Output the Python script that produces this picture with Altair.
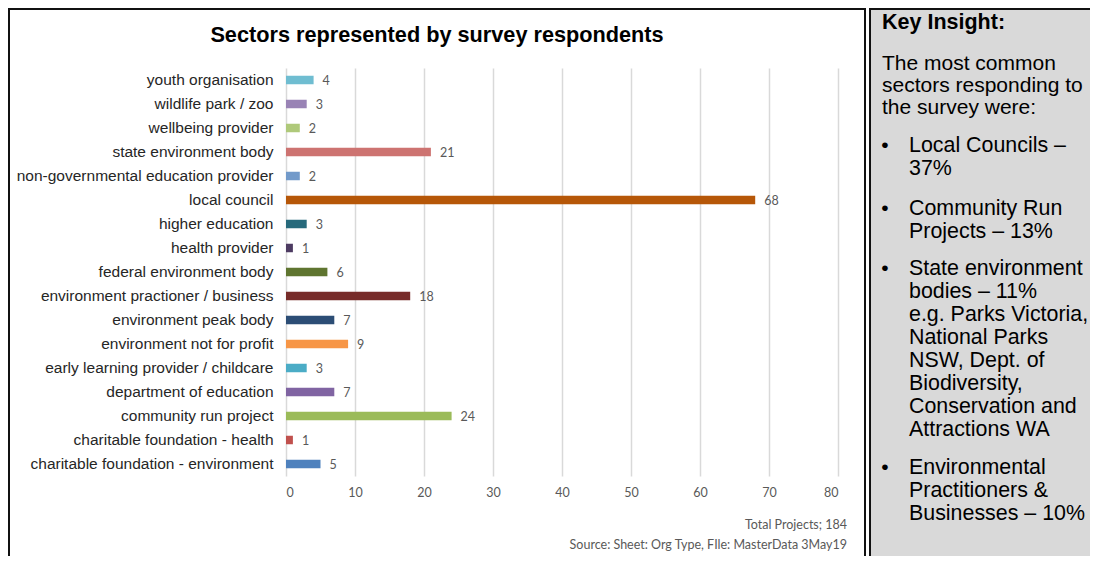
import altair as alt
import pandas as pd

# ---------------- data ----------------
sectors = [
    "youth organisation",
    "wildlife park / zoo",
    "wellbeing provider",
    "state environment body",
    "non-governmental education provider",
    "local council",
    "higher education",
    "health provider",
    "federal environment body",
    "environment practioner / business",
    "environment peak body",
    "environment not for profit",
    "early learning provider / childcare",
    "department of education",
    "community run project",
    "charitable foundation - health",
    "charitable foundation - environment",
]
counts = [4, 3, 2, 21, 2, 68, 3, 1, 6, 18, 7, 9, 3, 7, 24, 1, 5]
bar_colors = [
    "#6fbdd1", "#9983b5", "#afc97a", "#cd7371", "#729aca", "#b65708",
    "#276a7c", "#4d3b62", "#5f7530", "#772c2a", "#2c4d75", "#f79646",
    "#4bacc6", "#8064a2", "#9bbb59", "#c0504d", "#4f81bd",
]
x_ticks = [0, 10, 20, 30, 40, 50, 60, 70, 80]

title_text = "Sectors represented by survey respondents"
footer_total = "Total Projects;  184"
footer_source = "Source:  Sheet: Org Type, FIle: MasterData 3May19"

insight_heading = "Key Insight:"
insight_intro = ["The most common", "sectors responding to", "the survey were:"]
bullet_1 = ["Local Councils \u2013", "37%"]
bullet_2 = ["Community Run", "Projects \u2013 13%"]
bullet_3 = ["State environment", "bodies \u2013 11%", "e.g. Parks Victoria,",
            "National Parks", "NSW,  Dept. of", "Biodiversity,",
            "Conservation and", "Attractions WA"]
bullet_4 = ["Environmental", "Practitioners &", "Businesses \u2013 10%"]

df = pd.DataFrame({"sector": sectors, "count": counts})
one = pd.DataFrame({"k": [0]})

W, H = 552, 408
FONT = "Liberation Sans"
NUMFONT = "Lato"

# ---------------- main bars ----------------
y_enc = alt.Y(
    "sector:N",
    sort=sectors,
    scale=alt.Scale(paddingInner=0.1, paddingOuter=0.05),
    axis=alt.Axis(title=None, domain=False, ticks=False, grid=False,
                  labelFont=FONT, labelFontSize=15.5, labelColor="#262626",
                  labelPadding=13, labelLimit=400),
)
x_enc = alt.X(
    "count:Q",
    scale=alt.Scale(domain=[0, 80], nice=False),
    axis=alt.Axis(values=x_ticks, title=None, grid=True, gridColor="#d9d9d9",
                  gridWidth=1.5, domain=False, ticks=False, labelFont=NUMFONT,
                  labelFontSize=12.5, labelColor="#595959", labelPadding=10),
)

bars = alt.Chart(df).mark_bar(size=8.5).encode(
    x=x_enc,
    y=y_enc,
    color=alt.Color("sector:N", scale=alt.Scale(domain=sectors, range=bar_colors), legend=None),
)
bar_labels = alt.Chart(df).mark_text(
    align="left", baseline="middle", dx=9, dy=1, font=NUMFONT, fontSize=12.5, color="#595959"
).encode(x="count:Q", y=alt.Y("sector:N", sort=sectors), text="count:Q")

# ---------------- frames ----------------
chart_frame = alt.Chart(one).mark_rect(fill="white", fillOpacity=0, stroke="#111111", strokeWidth=2).encode(
    x=alt.value(-277), x2=alt.value(579), y=alt.value(-59), y2=alt.value(510)
)
panel = alt.Chart(one).mark_rect(fill="#d9d9d9", stroke="#111111", strokeWidth=2).encode(
    x=alt.value(584), x2=alt.value(830), y=alt.value(-59), y2=alt.value(510)
)

# ---------------- texts ----------------
def txt(text, x, y, size, weight="normal", align="left", color="#000000", font=FONT, lh=None, baseline="alphabetic"):
    props = dict(align=align, baseline=baseline, font=font, fontSize=size,
                 fontWeight=weight, color=color, lineBreak="\n")
    if lh is not None:
        props["lineHeight"] = lh
    return alt.Chart(pd.DataFrame({"t": [text]})).mark_text(**props).encode(
        x=alt.value(x), y=alt.value(y), text="t:N"
    )

title = txt(title_text, 151, -26, 21.7, weight="bold", align="center")
foot1 = txt(footer_total, 561, 457, 12.5, align="right", color="#595959", font=NUMFONT, baseline="middle")
foot2 = txt(footer_source, 561, 477, 12.5, align="right", color="#595959", font=NUMFONT, baseline="middle")

heading = txt(insight_heading, 596, -39, 21.5, weight="bold")
intro = txt("\n".join(insight_intro), 596, 2, 21, lh=22)
b_texts = []
for lines, yy in [(bullet_1, 84), (bullet_2, 147), (bullet_3, 207), (bullet_4, 406)]:
    b_texts.append(txt("\n".join(lines), 623, yy, 21.4, lh=23))
    b_texts.append(txt("\u2022", 599, yy, 21, align="center"))

chart = alt.layer(
    chart_frame, panel, bars, bar_labels, title, foot1, foot2, heading, intro, *b_texts
).properties(
    width=W, height=H,
    autosize=alt.AutoSizeParams(type="none"),
    padding={"left": 278, "top": 60, "right": 252, "bottom": 80},
    background="white",
).configure_view(strokeWidth=0)

chart.save("out.html", embed_options={"renderer": "svg", "actions": False})
